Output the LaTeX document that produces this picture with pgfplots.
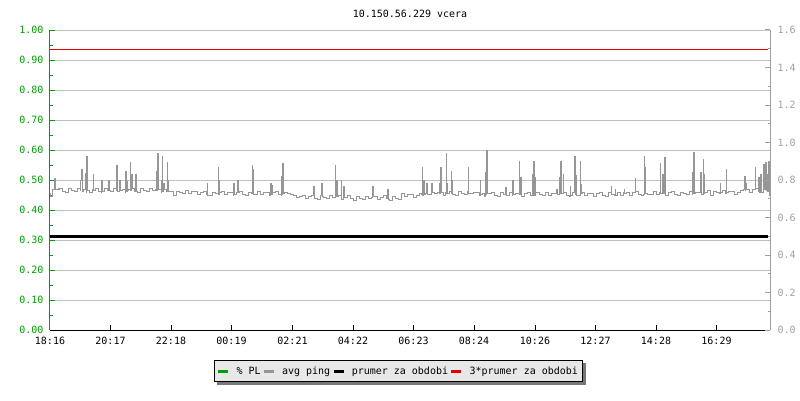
\documentclass[border=0pt]{standalone}
\usepackage{fontspec}
\setmainfont{DejaVu Sans Mono}
\usepackage{pgfplots}
\pgfplotsset{compat=1.18}
\usetikzlibrary{backgrounds}
\definecolor{plgreen}{RGB}{0,160,0}
\definecolor{gridgray}{RGB}{192,192,192}
\definecolor{pinggray}{RGB}{150,150,150}
\definecolor{rightgray}{RGB}{160,160,160}
\definecolor{meanred}{RGB}{230,0,0}
\definecolor{legfill}{RGB}{232,232,232}
\definecolor{shadowgray}{RGB}{120,120,120}
\begin{document}
\begin{tikzpicture}
\path[use as bounding box] (0,0) rectangle (800pt,400pt);
\begin{axis}[
  at={(50pt,70pt)}, anchor=south west,
  scale only axis, width=720pt, height=300pt,
  xmin=0, xmax=720, ymin=0, ymax=1,
  axis x line*=bottom, axis y line*=left,
  x axis line style={black, line width=1pt, -},
  y axis line style={plgreen, line width=1pt, -},
  xtick={0,60.5,121,181.5,242.5,303,363.5,424,485,545.5,606,666.5},
  xticklabels={18:16,20:17,22:18,00:19,02:21,04:22,06:23,08:24,10:26,12:27,14:28,16:29},
  ytick={0,0.1,0.2,0.3,0.4,0.5,0.6,0.7,0.8,0.9,1.0},
  minor y tick num=1,
  tick align=inside,
  major tick length=5pt, minor tick length=3pt,
  ymajorgrids, major grid style={gridgray, line width=1pt},
  y tick style={plgreen, line width=1pt},
  x tick style={black, line width=1pt},
  y tick label style={plgreen, xshift=-3pt, /pgf/number format/fixed, /pgf/number format/fixed zerofill, /pgf/number format/precision=2},
  x tick label style={black, yshift=-4pt},
  /pgf/number format/assume math mode=true,
  title={10.150.56.229 vcera},
  title style={at={(0.5,1)}, anchor=center, yshift=10pt},
  legend columns=4,
  legend image code/.code={\draw[#1, line width=2.5pt] (0pt,0pt) -- (10pt,0pt);},
  legend style={name=leg, at={(0.484,-0.138)}, anchor=center, fill=legfill, draw=black, line width=1pt,
    inner xsep=3pt, inner ysep=4pt,
    /tikz/every odd column/.append style={column sep=5pt}},
]
\addlegendimage{plgreen}
\addlegendentry{\% PL}
\addplot[pinggray, line width=1pt, const plot] coordinates {
(0,0.455) (1,0.444) (3,0.468) (4.7,0.506) (5.4,0.470) (6,0.468) (9,0.473) (12,0.463) (15,0.458) (18,0.471) (21,0.466) (24,0.462) (27,0.472) (30,0.464) (30.7,0.500) (31.3,0.536) (32,0.462) (33,0.469) (35.5,0.522) (36.2,0.460) (36.7,0.580) (37.5,0.466) (39,0.460) (42,0.468) (43,0.520) (43.7,0.466) (45,0.473) (48,0.463) (51,0.458) (51.5,0.500) (52.2,0.462) (54,0.471) (57,0.466) (58.7,0.500) (59.4,0.464) (60,0.462) (63,0.472) (66,0.464) (66.5,0.550) (67.2,0.462) (69,0.469) (69.7,0.500) (70.4,0.466) (72,0.470) (75,0.460) (75.5,0.530) (76.2,0.462) (77,0.495) (77.7,0.466) (78,0.468) (80.3,0.558) (80.8,0.465) (81.3,0.520) (82,0.473) (84,0.463) (85.7,0.520) (86.4,0.462) (87,0.458) (90,0.471) (93,0.466) (96,0.462) (99,0.472) (102,0.464) (105,0.469) (106.3,0.530) (106.8,0.466) (107.3,0.587) (108,0.470) (111,0.460) (111.3,0.500) (111.6,0.462) (112,0.580) (112.7,0.462) (113.7,0.490) (114.3,0.468) (116,0.462) (117,0.558) (117.5,0.462) (118,0.500) (118.7,0.462) (120,0.463) (123,0.450) (126,0.463) (129,0.458) (132,0.454) (135,0.464) (138,0.456) (141,0.461) (144,0.462) (147,0.452) (150,0.460) (153,0.462) (156,0.452) (157,0.490) (157.7,0.450) (159,0.447) (162,0.460) (165,0.455) (168,0.451) (168.3,0.542) (168.7,0.452) (169,0.500) (169.7,0.458) (171,0.461) (174,0.453) (177,0.458) (180,0.459) (183,0.449) (183.3,0.490) (184,0.452) (186,0.457) (187.7,0.500) (188.4,0.458) (189,0.462) (192,0.452) (195,0.447) (198,0.460) (201,0.455) (202,0.550) (202.5,0.455) (203,0.535) (203.7,0.452) (204,0.451) (207,0.461) (210,0.453) (213,0.458) (216,0.459) (219,0.449) (220.3,0.490) (221,0.452) (222,0.483) (222.7,0.457) (225,0.462) (228,0.452) (231,0.447) (231.3,0.513) (231.8,0.452) (232.3,0.556) (233,0.455) (234,0.460) (237,0.455) (240,0.451)
(243,0.449) (246,0.441) (249,0.446) (252,0.447) (255,0.437) (258,0.445) (261,0.450) (263.5,0.478) (264,0.440) (267,0.435) (270,0.448) (271.3,0.487) (272,0.445) (273,0.443) (276,0.439) (279,0.449) (282,0.441) (285,0.446) (285.3,0.550) (285.8,0.445) (286.3,0.500) (287,0.444) (288,0.447) (291,0.500) (291.7,0.436) (293.5,0.478) (294.2,0.442) (297,0.447) (300,0.437) (303,0.432) (306,0.445) (309,0.440) (312,0.436) (315,0.446) (318,0.438) (321,0.443) (322.7,0.478) (323.4,0.444) (324,0.444) (327,0.434) (330,0.442) (333,0.447) (336,0.437) (337.7,0.467) (338.4,0.436) (339,0.432) (342,0.445) (345,0.440) (348,0.436) (351,0.454) (354,0.446) (357,0.451) (360,0.452) (363,0.442) (366,0.450) (369,0.455) (371,0.452) (372,0.542) (372.7,0.450) (373.3,0.500) (374,0.452) (375,0.456) (376.7,0.487) (377.4,0.452) (378,0.452) (381,0.462) (381.7,0.487) (382.4,0.458) (384,0.454) (387,0.459) (389.3,0.487) (389.8,0.455) (390.3,0.542) (391,0.460) (393,0.450) (395.5,0.458) (396,0.587) (396.5,0.455) (397,0.490) (397.7,0.456) (399,0.463) (401.3,0.528) (401.7,0.455) (402,0.500) (402.7,0.453) (405,0.448) (408,0.461) (411,0.456) (414,0.452) (417,0.462) (418,0.542) (418.7,0.455) (420,0.454) (423,0.459) (426,0.460) (429,0.450) (430,0.500) (430.7,0.452) (432,0.456) (434.5,0.446) (435.3,0.525) (436,0.452) (436.7,0.598) (437.5,0.454) (441,0.459) (444,0.449) (447,0.444) (450,0.457) (453,0.452) (455.3,0.475) (456,0.448) (459,0.458) (462,0.450) (462.7,0.500) (463.3,0.452) (465,0.455) (468,0.456) (469.3,0.563) (469.8,0.452) (470.3,0.510) (471,0.446) (474,0.454) (477,0.459) (480,0.449)
(482.3,0.520) (482.8,0.450) (483.3,0.563) (484,0.447) (485,0.510) (485.7,0.457) (489,0.452) (492,0.448) (495,0.458) (498,0.450) (501,0.455) (504,0.456) (506.7,0.468) (507.4,0.452) (509.3,0.510) (509.8,0.455) (510.3,0.563) (511,0.454) (513,0.520) (513.7,0.459) (516,0.449) (519,0.444) (520,0.478) (520.7,0.450) (522,0.457) (524.3,0.580) (525,0.452) (525.7,0.515) (526.5,0.450) (528,0.448) (530,0.561) (530.7,0.485) (531.4,0.456) (532,0.458) (534,0.450) (537,0.455) (540,0.456) (543,0.446) (546,0.454) (549,0.459) (552,0.449) (555,0.444) (558,0.457) (561,0.478) (561.7,0.452) (564,0.448) (565,0.467) (565.7,0.450) (567,0.458) (570,0.450) (573,0.458) (574,0.470) (574.7,0.455) (576,0.459) (579,0.449) (582,0.457) (585,0.506) (585.7,0.462) (588,0.452) (591,0.447) (593.5,0.452) (594,0.580) (594.7,0.542) (595.4,0.455) (597,0.453) (600,0.451) (603,0.461) (606,0.453) (609,0.458) (610,0.556) (610.7,0.455) (612,0.459) (612.7,0.520) (613.5,0.455) (614.3,0.576) (615,0.449) (618,0.457) (621,0.462) (624,0.452) (627,0.447) (630,0.460) (633,0.455) (636,0.451) (639,0.461) (642,0.453) (642.3,0.525) (642.8,0.455) (643.3,0.593) (644,0.456) (645,0.458) (648,0.459) (650.7,0.525) (651.5,0.452) (653,0.569) (653.5,0.455) (654,0.520) (654.7,0.460) (657,0.465) (660,0.450) (663,0.463) (666,0.458) (669,0.454) (670,0.487) (670.7,0.458) (672,0.464) (675,0.456) (676,0.536) (676.7,0.458) (678,0.461) (681,0.462) (684,0.452) (687,0.460) (690,0.465) (693,0.468) (694.7,0.513) (695.2,0.465) (695.7,0.487) (696.5,0.469) (699,0.459) (702,0.467) (705,0.542) (705.7,0.472) (708,0.462) (708.3,0.510) (709,0.460) (710.7,0.520) (711.3,0.457) (713.3,0.553) (714,0.470) (715.7,0.558) (716.3,0.465) (717.3,0.520) (717.8,0.462) (718.3,0.561) (719,0.462) (719.7,0.450) (720,0.455)
};
\addlegendentry{avg ping}
\addplot[black, line width=3pt] coordinates {(0,0.3115) (718,0.3115)};
\addlegendentry{prumer za obdobi}
\addplot[meanred, line width=1.5pt] coordinates {(0,0.9357) (718,0.9357)};
\addlegendentry{3*prumer za obdobi}
\end{axis}
\begin{axis}[
  at={(50pt,70pt)}, anchor=south west,
  scale only axis, width=720pt, height=300pt,
  xmin=0, xmax=720, ymin=0, ymax=1.6,
  axis x line=none, axis y line*=right,
  y axis line style={rightgray, line width=1pt, -},
  ytick={0,0.2,0.4,0.6,0.8,1.0,1.2,1.4,1.6},
  minor y tick num=1,
  tick align=inside,
  major tick length=5pt, minor tick length=2.5pt,
  y tick style={rightgray, line width=1pt},
  y tick label style={rightgray, xshift=4pt, /pgf/number format/fixed, /pgf/number format/fixed zerofill, /pgf/number format/precision=1},
  /pgf/number format/assume math mode=true,
]
\addplot[draw=none] coordinates {(0,0) (720,1.6)};
\end{axis}
\begin{scope}[on background layer]
\fill[shadowgray] ([xshift=3pt,yshift=-3pt]leg.south west) rectangle ([xshift=3pt,yshift=-3pt]leg.north east);
\end{scope}
\end{tikzpicture}
\end{document}
